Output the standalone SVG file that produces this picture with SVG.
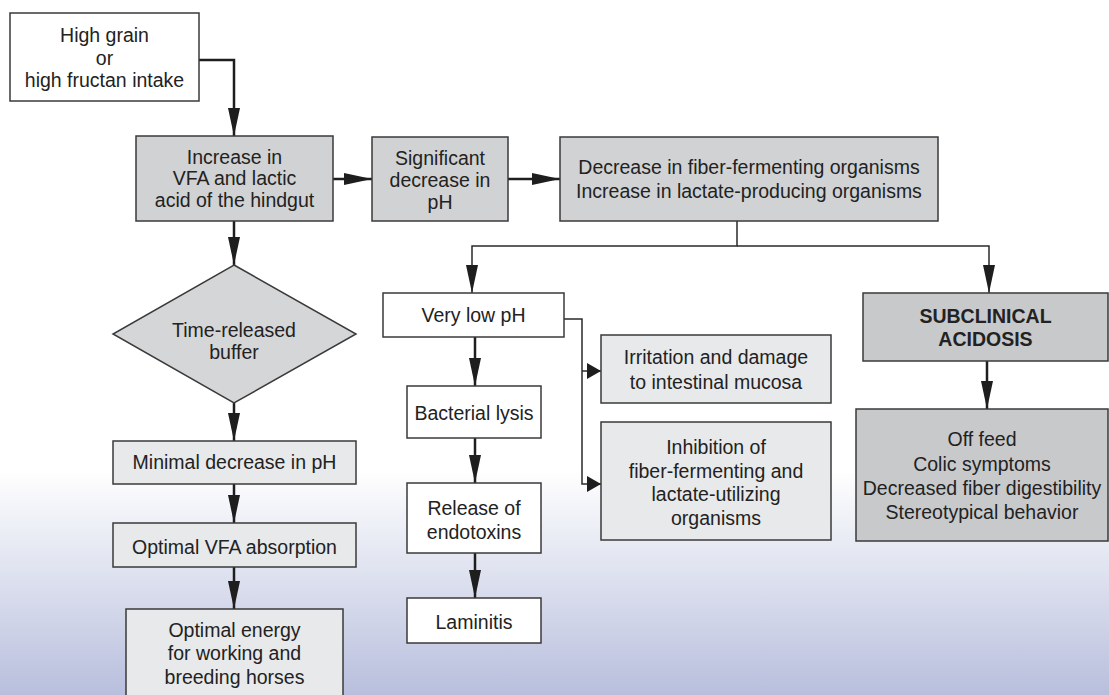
<svg xmlns="http://www.w3.org/2000/svg" width="1109" height="695" viewBox="0 0 1109 695">
<defs>
<linearGradient id="bg" gradientUnits="userSpaceOnUse" x1="0" y1="470" x2="0" y2="695">
<stop offset="0" stop-color="#ffffff"/>
<stop offset="1" stop-color="#b8bfdd"/>
</linearGradient>
<marker id="ah" markerUnits="userSpaceOnUse" markerWidth="28" markerHeight="12" refX="28" refY="6" orient="auto">
<path d="M0,0 L28,6 L0,12 z" fill="#1e1e1e"/>
</marker>
<marker id="as" markerUnits="userSpaceOnUse" markerWidth="14" markerHeight="16" refX="14" refY="8" orient="auto">
<path d="M0,0 L14,8 L0,16 z" fill="#1e1e1e"/>
</marker>
<style>
.b{stroke:#3a3a3a;stroke-width:1.5}
.w{fill:#ffffff}
.g{fill:#d1d2d4}
.d{fill:#c8c9cb}
.l{fill:#e8e9eb}
.t{font-family:"Liberation Sans",Arial,sans-serif;font-size:19.5px;fill:#222;text-anchor:middle}
.bold{font-weight:bold}
.c{fill:none;stroke:#1e1e1e;stroke-width:2.5}
.cn{fill:none;stroke:#2a2a2a;stroke-width:1.5}
</style>
</defs>
<rect x="0" y="0" width="1109" height="695" fill="url(#bg)"/>

<g id="connectors">
<path class="c" d="M199,60 H234 V136" marker-end="url(#ah)"/>
<path class="c" d="M333,179 H372" marker-end="url(#ah)"/>
<path class="c" d="M508,179 H560" marker-end="url(#ah)"/>
<path class="cn" d="M737,221 V246 H472 V293" marker-end="url(#ah)"/>
<path class="cn" d="M737,246 H989 V293" marker-end="url(#ah)"/>
<path class="c" d="M234,221 V265" marker-end="url(#ah)"/>
<path class="c" d="M234,403 V441" marker-end="url(#ah)"/>
<path class="c" d="M234,484 V523" marker-end="url(#ah)"/>
<path class="c" d="M234,567 V609" marker-end="url(#ah)"/>
<path class="c" d="M475,337 V386" marker-end="url(#ah)"/>
<path class="c" d="M475,438 V483" marker-end="url(#ah)"/>
<path class="c" d="M475,553 V598" marker-end="url(#ah)"/>
<path class="cn" d="M564,319 H582 V484 H601" marker-end="url(#as)"/>
<path class="cn" d="M582,371 H601" marker-end="url(#as)"/>
<path class="c" d="M987,361 V409" marker-end="url(#ah)"/>
</g>

<g id="n-intake">
<rect class="b w" x="10" y="13" width="189" height="88"/>
<text class="t" x="104.5" y="42">High grain</text>
<text class="t" x="104.5" y="64.5">or</text>
<text class="t" x="104.5" y="87">high fructan intake</text>
</g>

<g id="n-vfa">
<rect class="b g" x="136" y="136" width="197" height="85"/>
<text class="t" x="234.5" y="163.5">Increase in</text>
<text class="t" x="234.5" y="185">VFA and lactic</text>
<text class="t" x="234.5" y="206.5">acid of the hindgut</text>
</g>

<g id="n-sigph">
<rect class="b g" x="372" y="137" width="136" height="84"/>
<text class="t" x="440" y="165">Significant</text>
<text class="t" x="440" y="187">decrease in</text>
<text class="t" x="440" y="209">pH</text>
</g>

<g id="n-organisms">
<rect class="b g" x="560" y="137" width="378" height="84"/>
<text class="t" x="749" y="174">Decrease in fiber-fermenting organisms</text>
<text class="t" x="749" y="198">Increase in lactate-producing organisms</text>
</g>

<g id="n-buffer">
<polygon class="b" fill="#d5d6d8" points="234,265 356,334 234,403 113,334"/>
<text class="t" x="234" y="337">Time-released</text>
<text class="t" x="234" y="358.5">buffer</text>
</g>

<g id="n-minimal">
<rect class="b l" x="113" y="441" width="243" height="43"/>
<text class="t" x="234.5" y="468.5">Minimal decrease in pH</text>
</g>

<g id="n-optvfa">
<rect class="b l" x="113" y="523" width="243" height="44"/>
<text class="t" x="234.5" y="554">Optimal VFA absorption</text>
</g>

<g id="n-energy">
<rect class="b l" x="126" y="609" width="217" height="100"/>
<text class="t" x="234.5" y="637">Optimal energy</text>
<text class="t" x="234.5" y="660">for working and</text>
<text class="t" x="234.5" y="683.5">breeding horses</text>
</g>

<g id="n-verylow">
<rect class="b w" x="383" y="293" width="181" height="44"/>
<text class="t" x="473.5" y="322">Very low pH</text>
</g>

<g id="n-lysis">
<rect class="b w" x="407" y="386" width="134" height="52"/>
<text class="t" x="474" y="420">Bacterial lysis</text>
</g>

<g id="n-endotoxins">
<rect class="b w" x="407" y="483" width="134" height="70"/>
<text class="t" x="474" y="515">Release of</text>
<text class="t" x="474" y="538.5">endotoxins</text>
</g>

<g id="n-laminitis">
<rect class="b w" x="407" y="598" width="134" height="45"/>
<text class="t" x="474" y="628.5">Laminitis</text>
</g>

<g id="n-irritation">
<rect class="b l" x="601" y="335" width="230" height="68"/>
<text class="t" x="716" y="364">Irritation and damage</text>
<text class="t" x="716" y="388.5">to intestinal mucosa</text>
</g>

<g id="n-inhibition">
<rect class="b l" x="601" y="422" width="230" height="118"/>
<text class="t" x="716" y="454">Inhibition of</text>
<text class="t" x="716" y="477.5">fiber-fermenting and</text>
<text class="t" x="716" y="501">lactate-utilizing</text>
<text class="t" x="716" y="524.5">organisms</text>
</g>

<g id="n-subclinical">
<rect class="b d" x="863" y="293" width="245" height="68"/>
<text class="t bold" x="985.5" y="322.5">SUBCLINICAL</text>
<text class="t bold" x="985.5" y="346">ACIDOSIS</text>
</g>

<g id="n-symptoms">
<rect class="b d" x="856" y="409" width="252" height="132"/>
<text class="t" x="982" y="445.5">Off feed</text>
<text class="t" x="982" y="470.5">Colic symptoms</text>
<text class="t" x="982" y="494.5">Decreased fiber digestibility</text>
<text class="t" x="982" y="518.5">Stereotypical behavior</text>
</g>
</svg>
